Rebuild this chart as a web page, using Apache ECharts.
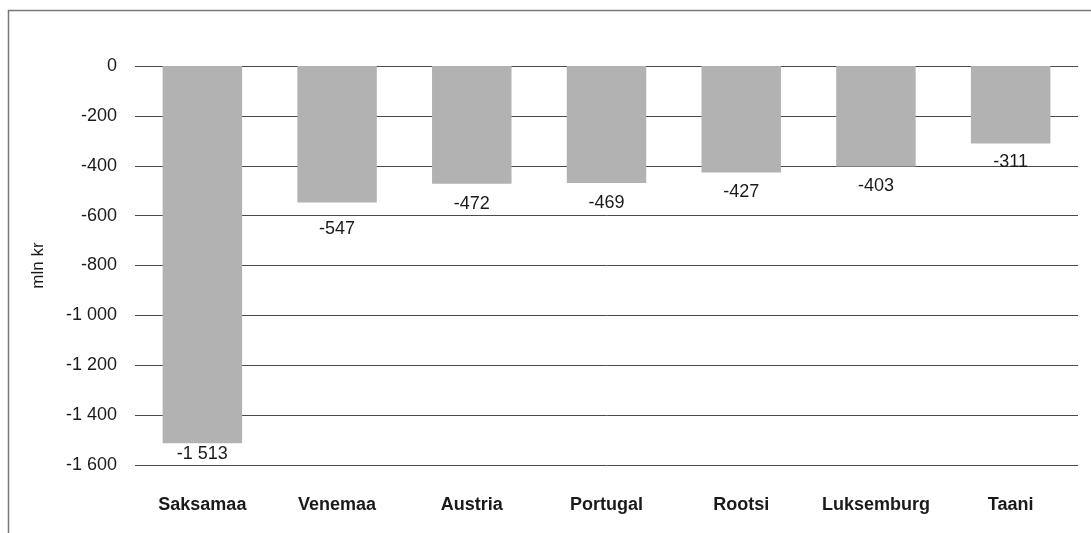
<!DOCTYPE html>
<html><head><meta charset="utf-8">
<script src="https://cdn.jsdelivr.net/npm/echarts@6/dist/echarts.min.js"></script>
<style>html,body{margin:0;padding:0;background:#fff}#c{width:1091px;height:533px}</style>
</head><body><div id="c"></div>
<script>
const categories = ['Saksamaa','Venemaa','Austria','Portugal','Rootsi','Luksemburg','Taani'];
const values = [-1513,-547,-472,-469,-427,-403,-311];
const yTicks = {min:-1600, max:0, interval:200};
const yName = 'mln kr';
// label nudges (style only): labels kept clear of gridlines as in the original
const labelDistance = [2, 18, 11, 11, 11, 11, 9];

function fmt(v){
  const s = Math.abs(v).toString().replace(/\B(?=(\d{3})+(?!\d))/g,' ');
  return (v<0?'-':'')+s;
}
const chart = echarts.init(document.getElementById('c'));
chart.setOption({
  animation:false,
  textStyle:{fontFamily:'Liberation Sans, Arial, sans-serif'},
  grid:{left:135,right:13,top:66,bottom:68},
  graphic:[
    {type:'line',shape:{x1:8,y1:10.5,x2:1091,y2:10.5},style:{stroke:'#777',lineWidth:1.5}},
    {type:'line',shape:{x1:8.5,y1:10,x2:8.5,y2:533},style:{stroke:'#777',lineWidth:1.5}}
  ],
  xAxis:{type:'category',data:categories,position:'bottom',
    axisLine:{show:false},axisTick:{show:false},
    axisLabel:{interval:0,fontWeight:'bold',fontSize:18,color:'#1a1a1a',margin:31}},
  yAxis:{type:'value',min:yTicks.min,max:yTicks.max,interval:yTicks.interval,
    name:yName,nameLocation:'middle',nameGap:88,nameRotate:90,
    nameTextStyle:{fontSize:17,color:'#1a1a1a'},
    axisLine:{show:false},axisTick:{show:false},
    axisLabel:{fontSize:18,color:'#1a1a1a',margin:18,formatter:fmt},
    splitLine:{lineStyle:{color:'#4a4a4a',width:1}}},
  series:[{type:'bar',
    data:values.map((v,i)=>({value:v,label:{distance:labelDistance[i]}})),
    barCategoryGap:'41%',
    itemStyle:{color:'#b2b2b2'},
    label:{show:true,position:'bottom',fontSize:18,color:'#1a1a1a',formatter:p=>fmt(p.value)}}]
});
</script></body></html>
